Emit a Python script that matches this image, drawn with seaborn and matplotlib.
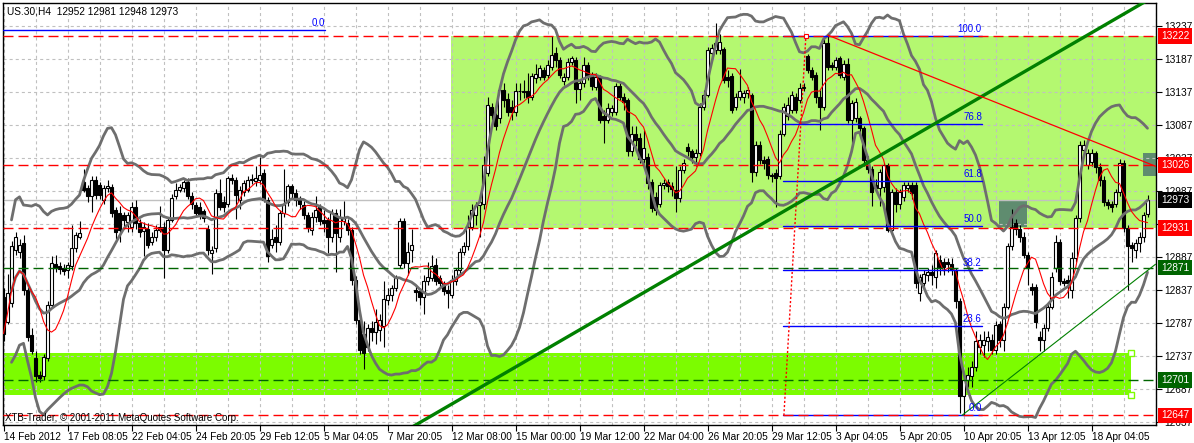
import numpy as np
import pandas as pd
import matplotlib
matplotlib.use("Agg")
import matplotlib.pyplot as plt
import matplotlib.transforms as mtrans
from matplotlib.patches import Rectangle
import seaborn as sns

# ---------------- data (US.30, H4) ----------------
opens = [12827,12789,12817,12898,12895,12908,12837,12769,12734,12709,12706,12734,12815,12877,12873,12870,12867,12873,12900,12918,
         13001,12991,12979,13004,12996,12973,12991,12993,12958,12953,12951,12940,12933,12963,12938,12926,12930,12910,12918,12933,
         12933,12898,12943,12979,12989,12991,13001,12979,12966,12963,12956,12930,12893,12900,12984,12971,12968,13006,13004,12973,
         12986,12989,13003,13002,13003,13015,12973,12905,12918,12910,12953,12971,12994,12984,12976,12966,12951,12928,12948,12963,
         12943,12943,12918,12953,12918,12941,12938,12928,12852,12792,12771,12751,12779,12774,12777,12782,12822,12830,12840,12875,
         12941,12878,12898,12837,12835,12827,12850,12855,12875,12855,12847,12837,12830,12850,12867,12895,12903,12933,12950,12966,
         12967,13014,13115,13102,13097,13140,13127,13115,13107,13138,13138,13138,13130,13158,13160,13170,13163,13175,13196,13186,
         13153,13160,13183,13186,13141,13150,13178,13163,13145,13160,13100,13095,13107,13107,13146,13130,13125,13047,13074,13067,
         13035,13039,13001,12978,12968,12996,13001,12995,12989,12976,13019,13054,13047,13039,13044,13115,13133,13196,13201,13201,
         13202,13160,13161,13115,13130,13130,13135,13132,13016,13057,13034,13036,13011,13014,13009,13074,13100,13110,13130,13125,
         13143,13191,13170,13163,13130,13115,13211,13178,13175,13188,13160,13180,13095,13097,13097,13082,13034,13021,12996,12991,
         12993,13026,12928,12986,12968,12978,12991,12996,12996,12832,12847,12860,12865,12857,12883,12880,12880,12877,12867,12820,
         12676,12701,12706,12721,12751,12754,12759,12761,12746,12786,12761,12812,12903,12938,12930,12918,12890,12842,12842,12766,
         12761,12779,12812,12870,12910,12850,12852,12837,12885,12946,13049,13026,13031,13044,13024,13004,12971,12968,12968,12986,
         13029,12931,12905,12898,12908,12918,12952]
highs = [12840,12862,12912,12925,12915,12920,12845,12780,12745,12715,12740,12820,12888,12890,12880,12876,12880,12935,12925,12941,
         13021,12996,13009,13010,13000,12996,13004,12998,12962,12965,12955,12955,12970,12973,12945,12940,12938,12925,12935,12965,
         12940,12948,12982,12999,12998,13004,13006,12985,12970,12970,12960,12935,12903,12990,13005,12980,13010,13012,13008,12995,
         13004,13009,13012,13025,13038,13020,12978,12930,12935,12958,13020,12998,12998,12990,12980,12972,12955,12955,12980,12968,
         12958,12948,12960,12960,12960,12972,12945,12932,12858,12800,12790,12785,12790,12808,12800,12850,12840,12845,12860,12946,
         12946,12910,12930,12845,12840,12860,12880,12890,12885,12860,12850,12845,12860,12870,12900,12910,12950,12968,12970,12975,
         13040,13130,13120,13105,13145,13150,13135,13125,13150,13150,13155,13165,13165,13180,13178,13175,13185,13222,13205,13190,
         13165,13188,13192,13190,13155,13190,13183,13168,13165,13163,13110,13120,13118,13150,13150,13135,13128,13085,13085,13075,
         13080,13045,13005,12985,13000,13005,13005,13000,13025,13025,13035,13060,13050,13050,13120,13140,13205,13210,13241,13225,
         13205,13170,13165,13135,13172,13140,13145,13136,13062,13062,13040,13040,13015,13020,13080,13120,13130,13138,13135,13150,
         13150,13195,13175,13168,13140,13218,13222,13182,13190,13192,13185,13188,13125,13128,13100,13085,13040,13025,13005,13020,
         13030,13030,12990,12992,12990,13000,13000,13000,13000,12862,12868,12870,12875,12898,12890,12885,12885,12885,12870,12825,
         12708,12720,12730,12775,12770,12775,12775,12770,12790,12790,12818,12908,12960,12945,12935,12925,12895,12848,12846,12775,
         12785,12818,12865,12920,12915,12855,12860,12895,12950,13062,13065,13050,13050,13048,13030,13010,12975,12972,12990,13035,
         13034,12935,12910,12915,12925,12955,12981]
lows = [12760,12785,12812,12890,12885,12830,12760,12740,12698,12698,12700,12730,12810,12865,12862,12860,12855,12868,12895,12915,
        12985,12970,12955,12975,12975,12968,12985,12948,12915,12910,12930,12925,12925,12930,12918,12888,12900,12905,12912,12925,
        12855,12893,12940,12975,12985,12985,12975,12960,12948,12945,12940,12890,12862,12895,12958,12955,12962,12998,12945,12960,
        12980,12985,12998,12995,12998,12970,12880,12900,12895,12905,12948,12965,12975,12965,12960,12945,12925,12920,12940,12935,
        12925,12893,12910,12865,12910,12935,12920,12845,12785,12740,12718,12745,12760,12755,12760,12750,12815,12820,12835,12870,
        12870,12860,12880,12820,12815,12800,12845,12850,12845,12840,12830,12810,12825,12845,12860,12890,12898,12928,12935,12918,
        12960,13010,13095,13080,13090,13115,13100,13095,13100,13125,13128,13120,13125,13150,13155,13155,13158,13170,13175,13158,
        13148,13155,13178,13120,13125,13145,13155,13140,13140,13090,13060,13090,13100,13102,13125,13110,13040,13040,13055,13030,
        13030,12990,12955,12950,12962,12990,12985,12980,12955,12970,13015,13040,13030,13025,13040,13110,13130,13190,13195,13195,
        13150,13145,13105,13110,13125,13120,13128,13000,13010,13028,13020,13005,13000,12963,13005,13070,13095,13105,13105,13120,
        13138,13165,13155,13120,13080,13110,13170,13170,13170,13158,13155,13090,13059,13092,13075,13025,13015,12965,12985,12965,
        12985,12925,12925,12955,12960,12972,12985,12975,12840,12820,12840,12850,12845,12840,12860,12860,12865,12860,12810,12650,
        12647,12690,12690,12715,12740,12735,12745,12740,12740,12750,12745,12808,12898,12920,12910,12885,12845,12830,12780,12745,
        12745,12775,12808,12865,12845,12843,12825,12825,12880,12940,13045,13020,13025,13015,12995,12965,12960,12955,12962,12980,
        12925,12837,12880,12885,12895,12910,12948]
closes = [12771,12832,12903,12918,12905,12837,12766,12744,12706,12704,12736,12815,12878,12871,12869,12866,12875,12900,12920,12923,
          12989,12979,13004,12981,12981,12991,12995,12953,12925,12928,12943,12950,12963,12938,12925,12933,12905,12918,12928,12928,
          12898,12943,12976,12989,12993,13001,12979,12968,12953,12951,12946,12898,12898,12984,12963,12963,13006,13004,12981,12989,
          12999,13004,13005,13007,13011,12973,12888,12915,12910,12953,12968,12994,12984,12973,12968,12951,12931,12948,12958,12941,
          12938,12918,12953,12923,12948,12948,12928,12852,12792,12746,12741,12779,12774,12789,12792,12824,12830,12840,12855,12941,
          12878,12895,12905,12834,12827,12850,12857,12873,12850,12847,12835,12832,12852,12867,12895,12903,12933,12958,12965,12970,
          13026,13117,13102,13085,13140,13125,13107,13107,13138,13139,13137,13130,13161,13164,13173,13160,13178,13193,13186,13163,
          13160,13183,13188,13141,13150,13178,13163,13146,13160,13095,13095,13112,13112,13146,13130,13122,13047,13074,13064,13036,
          13052,12999,12961,12958,12996,12999,12995,12990,12976,13019,13029,13047,13039,13044,13115,13133,13201,13203,13211,13213,
          13155,13155,13110,13130,13138,13135,13140,13016,13057,13034,13029,13011,13009,13006,13074,13115,13118,13133,13110,13143,
          13145,13170,13160,13130,13115,13211,13175,13175,13186,13163,13180,13095,13120,13122,13082,13034,13021,12986,12991,13016,
          13026,12928,12986,12968,12986,12996,12996,12984,12847,12857,12862,12865,12860,12893,12872,12872,12877,12867,12820,12676,
          12701,12709,12721,12759,12761,12761,12766,12746,12784,12761,12812,12903,12933,12930,12918,12890,12870,12837,12789,12761,
          12779,12812,12857,12910,12850,12848,12848,12885,12946,13057,13057,13044,13044,13024,13004,12971,12966,12963,12986,13029,
          12931,12903,12900,12908,12918,12951,12973]

date_labels = ["14 Feb 2012", "17 Feb 08:05", "22 Feb 04:05", "24 Feb 20:05", "29 Feb 12:05", "5 Mar 04:05",
               "7 Mar 20:05", "12 Mar 08:00", "15 Mar 00:00", "19 Mar 12:00", "22 Mar 04:00", "26 Mar 20:05",
               "29 Mar 12:05", "3 Apr 04:05", "5 Apr 20:05", "10 Apr 20:05", "13 Apr 12:05", "18 Apr 04:05"]
price_ticks = [13237, 13187, 13137, 13087, 13037, 12987, 12937, 12887, 12837, 12787, 12737, 12687, 12637]
red_levels = [13222, 13026, 12931, 12647]
green_levels = [12871, 12701]
current_price = 12973
fib_pcts = [0.0, 23.6, 38.2, 50.0, 61.8, 76.8, 100.0]
fib_low, fib_high = 12647, 13222
fib_start_bar, fib_end_bar = 194.9, 244.6
fib_anchor_bars = [195.1, 200.6]
top_fib_price, top_fib_end_bar = 13231, 80.4
light_zone = [111.9, 288.5, 12931, 13222]     # bar0, bar1, price0, price1
bright_zone = [-1.0, 281.9, 12678, 12741]
dark_boxes = [[248.9, 255.9, 12933, 12973], [284.9, 288.5, 13009, 13044]]
green_trend = [[175.4, 12887], [235.4, 13098]]
red_trend = [[206.1, 13223], [288.2, 13024]]
thin_green_trend = [[239.6, 12647], [288.0, 12876]]
title = "US.30,H4  12952 12981 12948 12973"

# ---------------- figure ----------------
sns.set_theme(style="white")
plt.rcParams['font.family'] = ['Liberation Sans', 'DejaVu Sans']
plt.rcParams['lines.scale_dashes'] = False

W, H = 1194, 443
fig = plt.figure(figsize=(W / 100, H / 100), dpi=100)
fig.patch.set_facecolor('white')
ax = fig.add_axes([3 / W, (H - 425) / H, (1156 - 3) / W, (425 - 3) / H])
ax.set_facecolor('white')

n = len(closes)
df = pd.DataFrame({"bar": np.arange(n), "open": opens, "high": highs, "low": lows, "close": closes})
df["ma"] = df["close"].rolling(8, min_periods=1).mean()
mid = df["close"].rolling(20, min_periods=3).mean()
sd = df["close"].rolling(20, min_periods=3).std(ddof=0)
df["bb_mid"], df["bb_up"], df["bb_lo"] = mid, mid + 2 * sd, mid - 2 * sd

x0, x1 = -0.125, 288.125
y0, y1 = 12632.5, 13271.8
ax.set_xlim(x0, x1)
ax.set_ylim(y0, y1)

# zones (background)
ax.add_patch(Rectangle((light_zone[0], light_zone[2]), light_zone[1] - light_zone[0],
                       light_zone[3] - light_zone[2], fc='#b4f870', ec='none', zorder=0.5))
ax.add_patch(Rectangle((bright_zone[0], bright_zone[2]), bright_zone[1] - bright_zone[0],
                       bright_zone[3] - bright_zone[2], fc='#7cfc00', ec='none', zorder=0.6))
for b in dark_boxes:
    ax.add_patch(Rectangle((b[0], b[2]), b[1] - b[0], b[3] - b[2], fc='#5f8c6f', ec='none', zorder=0.7))

# grid
grid_kw = dict(color='#c0c0c0', lw=0.8, dashes=(2.2, 2.2), zorder=1)
for gx in range(0, n + 2, 8):
    ax.axvline(gx, **grid_kw)
for p in price_ticks:
    ax.axhline(p, **grid_kw)
ax.axhline(current_price, color='#c0c0c0', lw=1.0, zorder=1.1)

# candles
up = df["close"] >= df["open"]
ax.vlines(df["bar"], df["low"], df["high"], color='black', lw=0.8, zorder=3)
body_lo = np.minimum(df["open"], df["close"])
body_h = np.maximum(np.abs(df["close"] - df["open"]), 1.0)
ax.bar(df["bar"][up], body_h[up], bottom=body_lo[up], width=0.62, color='white',
       edgecolor='black', linewidth=0.8, zorder=3.2)
ax.bar(df["bar"][~up], body_h[~up], bottom=body_lo[~up], width=0.62, color='black',
       edgecolor='black', linewidth=0.8, zorder=3.2)

# indicators
for col in ["bb_up", "bb_mid", "bb_lo"]:
    sns.lineplot(data=df, x="bar", y=col, ax=ax, color='#6e6e6e', lw=2.0, zorder=4, legend=False)
sns.lineplot(data=df, x="bar", y="ma", ax=ax, color='#ff0000', lw=0.8, zorder=4.5, legend=False)

# fibonacci
rng = fib_high - fib_low
for pct in fib_pcts:
    lvl = fib_low + pct / 100 * rng
    ax.plot([fib_start_bar, fib_end_bar], [lvl, lvl], color='#0000ff', lw=1.0, zorder=5)
    ax.text(fib_end_bar, lvl + 3, f"{pct:.1f}", color='#0000ff', fontsize=7, ha='right', va='bottom', zorder=6)
ax.plot(fib_anchor_bars, [fib_low, fib_high], color='#ff0000', lw=1.0, ls=(0, (1.5, 1.5)), zorder=5)
ax.plot([fib_anchor_bars[1]], [fib_high], marker='s', ms=3, mfc='white', mec='#ff0000', mew=0.8, zorder=6)
ax.plot([x0, top_fib_end_bar], [top_fib_price, top_fib_price], color='#0000ff', lw=1.0, zorder=5)
ax.text(top_fib_end_bar, top_fib_price + 3, "0.0", color='#0000ff', fontsize=7, ha='right', va='bottom')

# horizontal levels (drawn over the fib lines, as in the terminal)
for p in red_levels:
    ax.axhline(p, color='#ff0000', lw=1.0, dashes=(7.2, 3.6), zorder=5.2)
for p in green_levels:
    ax.axhline(p, color='#006400', lw=1.0, dashes=(7.2, 3.6), zorder=5.2)

# trendlines
(gx0, gy0), (gx1, gy1) = green_trend
slope = (gy1 - gy0) / (gx1 - gx0)
ax.plot([90, 300], [gy0 + slope * (90 - gx0), gy0 + slope * (300 - gx0)], color='#008000', lw=2.4, zorder=5.5)
ax.plot(*zip(*red_trend), color='#ff0000', lw=0.9, zorder=5.5)
ax.plot(*zip(*thin_green_trend), color='#008000', lw=0.8, zorder=5.5)

# handles on the bright zone
ax.plot([bright_zone[1], bright_zone[1]], [bright_zone[3], bright_zone[2]], ls='none', marker='s', ms=4,
        mfc='white', mec='#7cfc00', mew=1.0, zorder=6, clip_on=False)

# axes styling
for s in ax.spines.values():
    s.set_color('black')
    s.set_linewidth(1.0)
ax.yaxis.tick_right()
ax.set_yticks(price_ticks)
ax.set_yticklabels([str(p) for p in price_ticks])
ax.tick_params(axis='y', direction='out', length=4, width=0.8, pad=2, labelsize=7.3, colors='black', right=True)
ax.set_xticks(list(range(0, 16 * len(date_labels), 16)))
ax.set_xticklabels(date_labels)
ax.tick_params(axis='x', direction='out', length=4, width=0.8, pad=1, labelsize=7.3, colors='black', bottom=True)
for lab in ax.get_xticklabels():
    lab.set_horizontalalignment('left')
ax.set_xlabel("")
ax.set_ylabel("")

# price boxes on the right scale
blend = mtrans.blended_transform_factory(fig.transFigure, ax.transData)
box_colors = {13222: '#ff0000', 13026: '#ff0000', 12931: '#ff0000', 12647: '#ff0000',
              12973: '#000000', 12871: '#006400', 12701: '#006400'}
for p, c in box_colors.items():
    ax.text(1175 / W, p, str(p), transform=blend, ha='center', va='center', color='white', fontsize=7.3,
            zorder=10, clip_on=False,
            bbox=dict(boxstyle='square,pad=0.28', fc=c, ec='none'))

fig.text(7 / W, 1 - 12 / H, title, fontsize=7.3, color='black', ha='left', va='center')
fig.text(5 / W, 1 - 418 / H, "XTB-Trader, \u00a9 2001-2011 MetaQuotes Software Corp.", fontsize=7,
         color='black', ha='left', va='center')

fig.savefig("out.png", dpi=100)
